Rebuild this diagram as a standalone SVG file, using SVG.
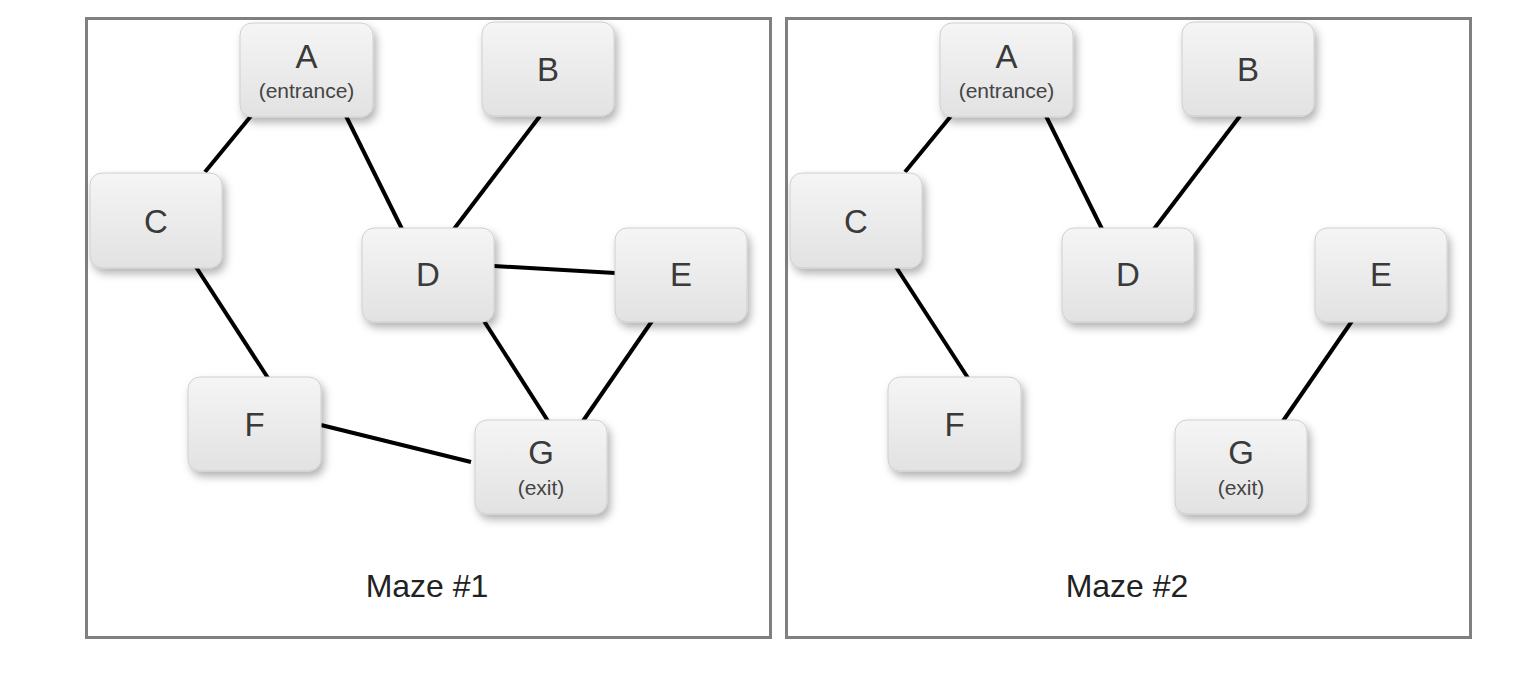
<svg xmlns="http://www.w3.org/2000/svg" width="1536" height="676" viewBox="0 0 1536 676">
<style>
.panel{fill:#fff;stroke:#808080;stroke-width:3}
.node rect{fill:url(#g);stroke:#cfcfcf;stroke-width:1;filter:url(#sh)}
.lbl{font-family:"Liberation Sans",Arial,sans-serif;font-size:33px;fill:#3a3a3a;text-anchor:middle}
.sub{font-family:"Liberation Sans",Arial,sans-serif;font-size:21px;fill:#444;text-anchor:middle}
.cap{font-family:"Liberation Sans",Arial,sans-serif;font-size:32px;fill:#222;text-anchor:middle}
.edges line{stroke:#000;stroke-width:4}
</style>
<defs>
<linearGradient id="g" x1="0" y1="0" x2="0" y2="1">
<stop offset="0" stop-color="#f5f5f5"/>
<stop offset="1" stop-color="#e2e2e2"/>
</linearGradient>
<filter id="sh" x="-20%" y="-20%" width="150%" height="160%">
<feDropShadow dx="3" dy="5" stdDeviation="4" flood-color="#000" flood-opacity="0.3"/>
</filter>
</defs>
<rect width="1536" height="676" fill="#fff"/>
<rect class="panel" x="86.5" y="18.5" width="684" height="619"/>
<rect class="panel" x="786.5" y="18.5" width="684" height="619"/>
<g class="edges" id="edges1">
<line x1="251" y1="116" x2="205" y2="172"/>
<line x1="346" y1="116" x2="402" y2="229"/>
<line x1="540" y1="116" x2="454" y2="229"/>
<line x1="196" y1="267" x2="268" y2="378"/>
<line x1="494" y1="266" x2="615" y2="273"/>
<line x1="484" y1="321" x2="548" y2="421"/>
<line x1="652" y1="321" x2="583" y2="421"/>
<line x1="321" y1="425" x2="471" y2="462"/>
</g>
<g class="edges" id="edges2">
<line x1="951" y1="116" x2="905" y2="172"/>
<line x1="1046" y1="116" x2="1102" y2="229"/>
<line x1="1240" y1="116" x2="1154" y2="229"/>
<line x1="896" y1="267" x2="968" y2="378"/>
<line x1="1352" y1="321" x2="1283" y2="421"/>
</g>
<g id="m1A" class="node"><rect x="240" y="23" width="133" height="94" rx="12"/><text class="lbl" x="306.5" y="68">A</text><text class="sub" x="306.5" y="98">(entrance)</text></g>
<g id="m1B" class="node"><rect x="482" y="22" width="132" height="94" rx="12"/><text class="lbl" x="548" y="81">B</text></g>
<g id="m1C" class="node"><rect x="90" y="173" width="132" height="95" rx="12"/><text class="lbl" x="156" y="233">C</text></g>
<g id="m1D" class="node"><rect x="362" y="228" width="132" height="94" rx="12"/><text class="lbl" x="428" y="286">D</text></g>
<g id="m1E" class="node"><rect x="615" y="228" width="132" height="94" rx="12"/><text class="lbl" x="681" y="286">E</text></g>
<g id="m1F" class="node"><rect x="188" y="377" width="133" height="94" rx="12"/><text class="lbl" x="254.5" y="436">F</text></g>
<g id="m1G" class="node"><rect x="475" y="420" width="132" height="94" rx="12"/><text class="lbl" x="541" y="464">G</text><text class="sub" x="541" y="495">(exit)</text></g>
<g id="m2A" class="node"><rect x="940" y="23" width="133" height="94" rx="12"/><text class="lbl" x="1006.5" y="68">A</text><text class="sub" x="1006.5" y="98">(entrance)</text></g>
<g id="m2B" class="node"><rect x="1182" y="22" width="132" height="94" rx="12"/><text class="lbl" x="1248" y="81">B</text></g>
<g id="m2C" class="node"><rect x="790" y="173" width="132" height="95" rx="12"/><text class="lbl" x="856" y="233">C</text></g>
<g id="m2D" class="node"><rect x="1062" y="228" width="132" height="94" rx="12"/><text class="lbl" x="1128" y="286">D</text></g>
<g id="m2E" class="node"><rect x="1315" y="228" width="132" height="94" rx="12"/><text class="lbl" x="1381" y="286">E</text></g>
<g id="m2F" class="node"><rect x="888" y="377" width="133" height="94" rx="12"/><text class="lbl" x="954.5" y="436">F</text></g>
<g id="m2G" class="node"><rect x="1175" y="420" width="132" height="94" rx="12"/><text class="lbl" x="1241" y="464">G</text><text class="sub" x="1241" y="495">(exit)</text></g>
<text class="cap" x="427" y="597">Maze #1</text>
<text class="cap" x="1127" y="597">Maze #2</text>
</svg>
